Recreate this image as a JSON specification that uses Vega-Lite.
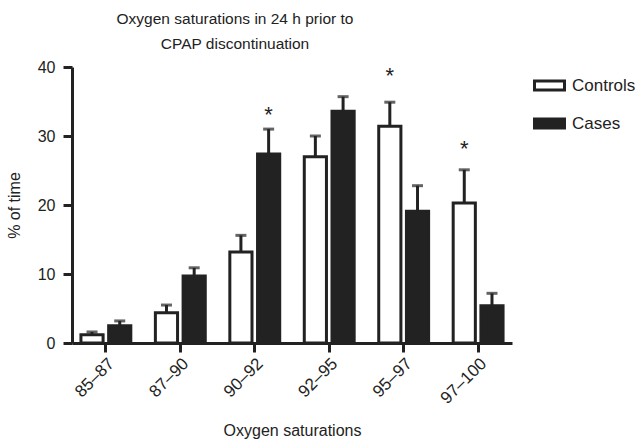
{
  "$schema": "https://vega.github.io/schema/vega-lite/v6.json",
  "autosize": "none",
  "width": 440,
  "height": 276,
  "padding": {"left": 72, "top": 67, "right": 129, "bottom": 98},
  "background": "white",
  "title": {
    "text": ["Oxygen saturations in 24 h prior to", "CPAP discontinuation"],
    "font": "Liberation Sans",
    "fontSize": 15.5,
    "fontWeight": "normal",
    "color": "#222",
    "anchor": "middle",
    "dx": -57,
    "offset": 7,
    "lineHeight": 25
  },
  "config": {
    "view": {"stroke": null},
    "font": "Liberation Sans",
    "axis": {
      "domainColor": "#222",
      "domainWidth": 3,
      "tickColor": "#222",
      "tickWidth": 3,
      "tickSize": 9,
      "grid": false,
      "labelFont": "Liberation Sans",
      "titleFont": "Liberation Sans",
      "labelColor": "#222",
      "titleColor": "#222",
      "labelFontSize": 16,
      "titleFontSize": 16,
      "titleFontWeight": "normal"
    }
  },
  "data": {
    "values": [
      {"range": "85–87", "group": "Controls", "value": 1.2, "upper": 1.6},
      {"range": "85–87", "group": "Cases", "value": 2.5, "upper": 3.2},
      {"range": "87–90", "group": "Controls", "value": 4.4, "upper": 5.5},
      {"range": "87–90", "group": "Cases", "value": 9.7, "upper": 10.9},
      {"range": "90–92", "group": "Controls", "value": 13.2, "upper": 15.6},
      {"range": "90–92", "group": "Cases", "value": 27.4, "upper": 31.0, "star": 33.8},
      {"range": "92–95", "group": "Controls", "value": 27.0, "upper": 30.0},
      {"range": "92–95", "group": "Cases", "value": 33.6, "upper": 35.7},
      {"range": "95–97", "group": "Controls", "value": 31.4, "upper": 34.9, "star": 39.4},
      {"range": "95–97", "group": "Cases", "value": 19.1, "upper": 22.8},
      {"range": "97–100", "group": "Controls", "value": 20.3, "upper": 25.1, "star": 28.9},
      {"range": "97–100", "group": "Cases", "value": 5.4, "upper": 7.2}
    ]
  },
  "encoding": {
    "x": {
      "field": "range",
      "type": "nominal",
      "sort": null,
      "scale": {"paddingInner": 0.33, "paddingOuter": 0.12},
      "axis": {
        "title": "Oxygen saturations",
        "labelAngle": -45,
        "labelAlign": "right",
        "labelBaseline": "top",
        "labelPadding": 3,
        "titlePadding": 16,
        "labelFontSize": 17
      }
    },
    "xOffset": {
      "field": "group",
      "type": "nominal",
      "sort": ["Controls", "Cases"],
      "scale": {"paddingInner": 0.2}
    }
  },
  "layer": [
    {
      "mark": {"type": "bar", "stroke": "#222", "strokeWidth": 3, "strokeJoin": "miter"},
      "encoding": {
        "y": {
          "field": "value",
          "type": "quantitative",
          "scale": {"domain": [0, 40], "nice": false},
          "axis": {"title": "% of time", "values": [0, 10, 20, 30, 40], "titlePadding": 15, "labelPadding": 8}
        },
        "fill": {
          "field": "group",
          "type": "nominal",
          "sort": ["Controls", "Cases"],
          "scale": {"domain": ["Controls", "Cases"], "range": ["white", "#222"]},
          "legend": {
            "title": null,
            "orient": "none",
            "legendX": 461,
            "legendY": 2,
            "padding": 0,
            "symbolType": "M-1,-0.3H1V0.3H-1Z",
            "symbolSize": 900,
            "symbolStrokeColor": "#222",
            "symbolStrokeWidth": 3,
            "symbolOpacity": 1,
            "labelFontSize": 17,
            "labelFont": "Liberation Sans",
            "labelColor": "#222",
            "rowPadding": 11,
            "labelOffset": 6
          }
        }
      }
    },
    {
      "mark": {"type": "rule", "color": "#222", "strokeWidth": 3},
      "encoding": {
        "y": {"field": "value", "type": "quantitative"},
        "y2": {"field": "upper"}
      }
    },
    {
      "mark": {"type": "tick", "color": "#222", "thickness": 3, "size": 11, "orient": "horizontal"},
      "encoding": {
        "y": {"field": "upper", "type": "quantitative"}
      }
    },
    {
      "transform": [{"filter": "datum.star != null"}],
      "mark": {"type": "text", "text": "*", "fontSize": 22, "font": "Liberation Sans", "color": "#222", "baseline": "middle", "dy": 5},
      "encoding": {
        "y": {"field": "star", "type": "quantitative"}
      }
    }
  ]
}
